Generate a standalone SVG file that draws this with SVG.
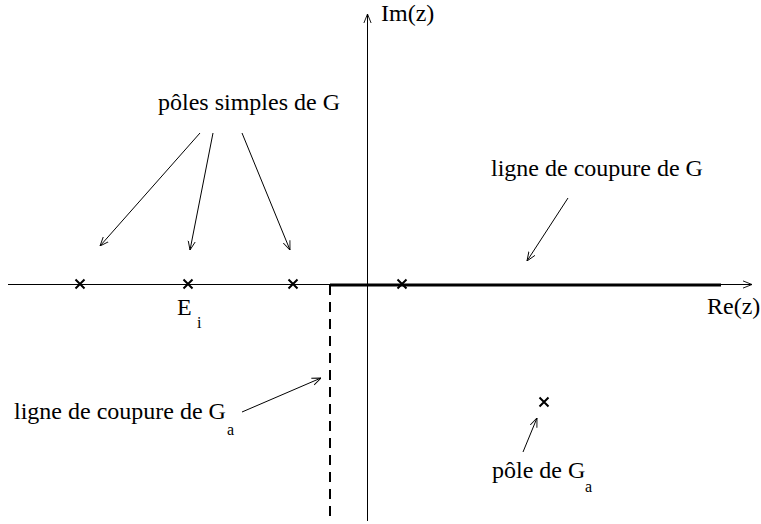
<svg xmlns="http://www.w3.org/2000/svg" width="761" height="524" viewBox="0 0 761 524">
<defs>
<marker id="ah" viewBox="0 0 10 10" refX="10" refY="5" markerWidth="9" markerHeight="9" markerUnits="userSpaceOnUse" orient="auto">
<path d="M0,1 L10,5 L0,9" fill="none" stroke="#000" stroke-width="1"/>
</marker>
</defs>
<style>
text{font-family:"Liberation Serif","Times New Roman",serif;fill:#000;font-size:24px}
.sub{font-size:16px}
.arr{stroke:#000;stroke-width:1;fill:none;marker-end:url(#ah)}
.x{stroke:#000;stroke-width:2;fill:none}
</style>
<rect width="761" height="524" fill="#fff"/>
<g id="axes">
<line class="arr" x1="8" y1="284.5" x2="752" y2="284.5"/>
<line class="arr" x1="367.5" y1="521" x2="367.5" y2="14"/>
<line x1="330" y1="285" x2="721" y2="285" stroke="#000" stroke-width="3"/>
<line x1="330" y1="285" x2="330" y2="521" stroke="#000" stroke-width="2" stroke-dasharray="10,7"/>
</g>
<g id="poles">
<path class="x" d="M75.5,279.5 l9,9 M84.5,279.5 l-9,9"/>
<path class="x" d="M183.5,279.5 l9,9 M192.5,279.5 l-9,9"/>
<path class="x" d="M288.5,279.5 l9,9 M297.5,279.5 l-9,9"/>
<path class="x" d="M397.5,279.5 l9,9 M406.5,279.5 l-9,9"/>
<path class="x" d="M539.5,397.5 l9,9 M548.5,397.5 l-9,9"/>
</g>
<g id="connectors">
<line class="arr" x1="200" y1="133" x2="100" y2="246"/>
<line class="arr" x1="213" y1="133" x2="190" y2="250"/>
<line class="arr" x1="242" y1="133" x2="290" y2="250"/>
<line class="arr" x1="568" y1="198" x2="527" y2="261"/>
<line class="arr" x1="242" y1="412" x2="321" y2="378"/>
<line class="arr" x1="523" y1="452" x2="537" y2="418"/>
</g>
<g id="labels">
<text x="381" y="21">Im(z)</text>
<text x="707" y="314">Re(z)</text>
<text x="158" y="110">pôles simples de G</text>
<text x="491" y="176">ligne de coupure de G</text>
<text x="177" y="315" font-size="30">E</text><text class="sub" x="197" y="328" font-size="18">i</text>
<text x="14" y="419">ligne de coupure de G</text><text class="sub" x="227" y="435">a</text>
<text x="492" y="478">pôle de G</text><text class="sub" x="585" y="492">a</text>
</g>
</svg>
